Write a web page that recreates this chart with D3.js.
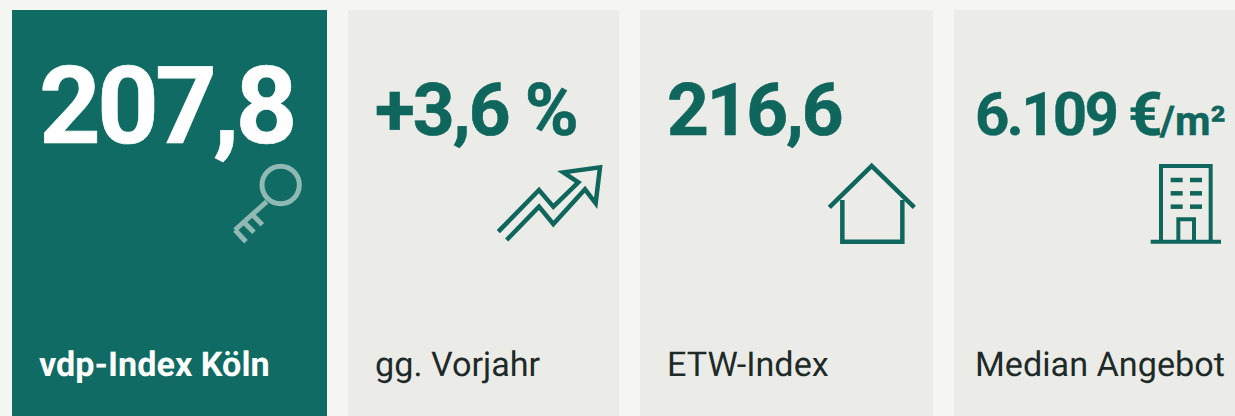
<!DOCTYPE html>
<html><head><meta charset="utf-8">
<script src="https://cdn.jsdelivr.net/npm/d3@7"></script>
<style>html,body{margin:0;padding:0;background:#f5f5f1;overflow:hidden}svg{display:block;text-rendering:geometricPrecision}</style>
</head><body><svg id="c" width="1235" height="416"></svg>
<script>
const values = ["207,8", "+3,6 %", "216,6", "6.109 €"];
const units = ["", "", "", "/m²"];
const labels = ["vdp-Index Köln", "gg. Vorjahr", "ETW-Index", "Median Angebot"];

const cardX0 = [12, 348, 640, 954];
const cardX1 = [327, 619, 933, 1235];
const textX = [39, 375, 667, 975];
const valueY = [143, 135, 135, 135];
const valueSize = [108, 73, 73, 60];
const valueSpacing = [-4, -2, -2.2, -2.8];
const valueStroke = [0.6, 0.6, 0.6, 0.4];
const labelWeight = [700, 400, 400, 400];
const TEAL = "#0f6b64", INK = "#0f665c", PANEL = "#ebebe7", KEYC = "#90b9b4";

const svg = d3.select("#c");
const line = d3.line();
svg.append("rect").attr("width", 1235).attr("height", 416).attr("fill", "#f5f5f1");

const cards = svg.selectAll("g.card").data(values).join("g").attr("class", "card");
cards.append("rect")
  .attr("x", (d, i) => cardX0[i]).attr("y", 10)
  .attr("width", (d, i) => cardX1[i] - cardX0[i]).attr("height", 406)
  .attr("fill", (d, i) => i === 0 ? TEAL : PANEL);

const vt = cards.append("text")
  .attr("x", (d, i) => textX[i]).attr("y", (d, i) => valueY[i])
  .attr("font-family", "Roboto").attr("font-weight", 700)
  .attr("font-size", (d, i) => valueSize[i])
  .attr("letter-spacing", (d, i) => valueSpacing[i])
  .attr("fill", (d, i) => i === 0 ? "#ffffff" : INK)
  .attr("stroke", (d, i) => i === 0 ? "#ffffff" : INK)
  .attr("stroke-width", (d, i) => valueStroke[i])
  .text(d => d);
vt.filter((d, i) => units[i]).append("tspan")
  .attr("font-size", 41).attr("letter-spacing", 0).text(d => units[values.indexOf(d)]);

cards.append("text")
  .attr("x", (d, i) => textX[i]).attr("y", 376)
  .attr("font-family", "Roboto").attr("font-size", 34.2)
  .attr("font-weight", (d, i) => labelWeight[i])
  .attr("fill", (d, i) => i === 0 ? "#ffffff" : "#1d2a28")
  .text((d, i) => labels[i]);

// Icons: outline paths in zoomed icon units
function icon(ox, oy, color, width, paths) {
  const g = svg.append("g").attr("transform", `translate(${ox},${oy}) scale(${1/3})`)
    .attr("fill", "none").attr("stroke", color).attr("stroke-width", width * 3);
  paths.forEach(p => g.append("path").attr("d", line(p)));
  return g;
}
const keyG = icon(220, 150, KEYC, 5, [
  [[140,155],[45,240]], [[45,240],[78,275]], [[70,215],[102,247]], [[95,192],[127,224]]
]);
keyG.append("circle").attr("cx", 182).attr("cy", 105).attr("r", 56);

icon(220, 150, INK, 4.5, [
  [[835,245],[957,120],[1000,170],[1075,97],[1030,67],[1140,52],[1127,160],[1095,118],[1000,222],[957,170],[860,270]]
]);
icon(810, 60, INK, 4.5, [
  [[58,442],[185,318],[313,442]],
  [[97,420],[97,545],[277,545],[277,420]]
]);
icon(810, 60, INK, 4, [
  [[1053,545],[1053,318],[1202,318],[1202,545]],
  [[1022,545],[1233,545]],
  [[1105,545],[1105,478],[1152,478],[1152,545]]
]);
icon(810, 60, INK, 4.5, [
  [[1082,360],[1118,360]], [[1140,360],[1176,360]],
  [[1082,400],[1118,400]], [[1140,400],[1176,400]],
  [[1082,440],[1118,440]], [[1140,440],[1176,440]]
]);
</script></body></html>
